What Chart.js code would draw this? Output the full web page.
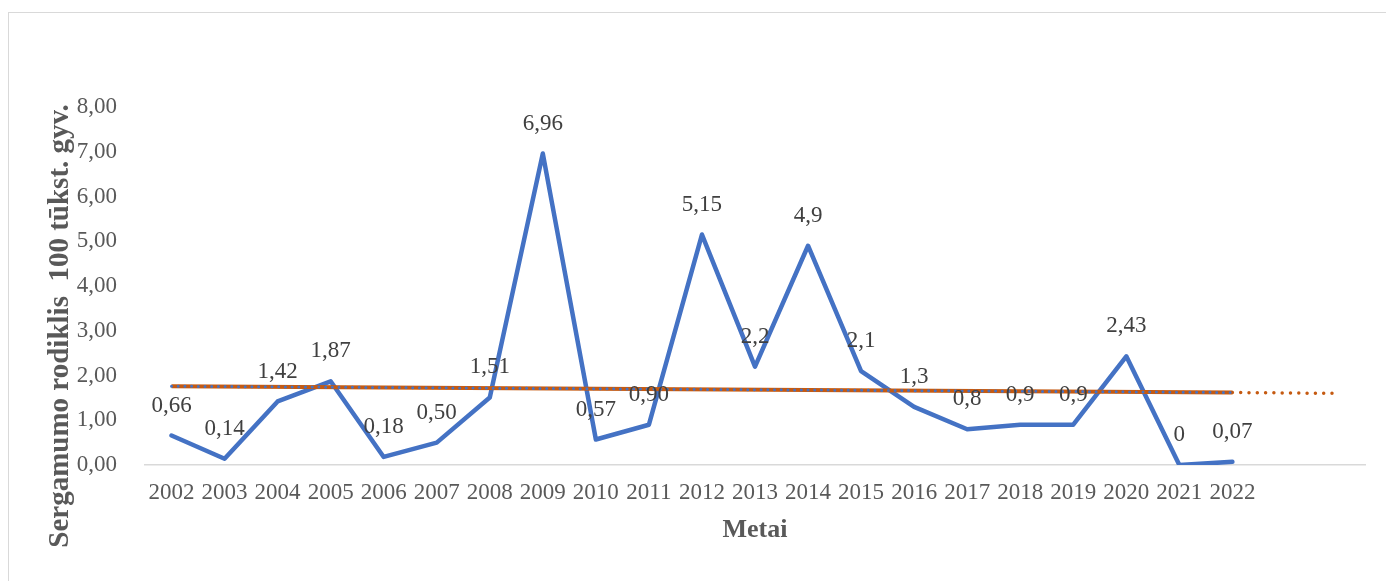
<!DOCTYPE html>
<html lang="lt">
<head>
<meta charset="utf-8">
<title>Sergamumo rodiklis</title>
<script src="https://cdn.jsdelivr.net/npm/chart.js@4.4.1/dist/chart.umd.min.js"></script>
<style>
    html, body { margin: 0; padding: 0; background: #fff; }
    #frame { position: absolute; left: 8px; top: 12px; width: 1400px; height: 600px; border: 1.5px solid #d9d9d9; }
    #wrap { position: absolute; left: 0; top: 0; width: 1386px; height: 581px; }
</style>
</head>
<body>
<div id="frame"></div>
<div id="wrap"><canvas id="rateChart"></canvas></div>
<script>
const years = ['2002', '2003', '2004', '2005', '2006', '2007', '2008', '2009', '2010', '2011',
    '2012', '2013', '2014', '2015', '2016', '2017', '2018', '2019', '2020', '2021', '2022'];
const forecastPeriods = ['', ''];
const rates = [0.66, 0.14, 1.42, 1.87, 0.18, 0.50, 1.51, 6.96, 0.57, 0.90,
    5.15, 2.2, 4.9, 2.1, 1.3, 0.8, 0.9, 0.9, 2.43, 0, 0.07];
const rateDecimals = [2, 2, 2, 2, 2, 2, 2, 2, 2, 2, 2, 1, 1, 1, 1, 1, 1, 1, 2, 0, 2];
const trendValues = [1.76, 1.62];     // linear trend at 2002 and 2022
const forecastValues = [1.62, 1.60];  // trend carried two periods forward

const SERIF = "'Liberation Serif', 'Times New Roman', serif";
const GREY = '#595959';

const labels = years.concat(forecastPeriods);
const lastYear = years.length - 1;

const trendSeries = labels.map(() => null);
trendSeries[0] = trendValues[0];
trendSeries[lastYear] = trendValues[1];

const forecastSeries = labels.map(() => null);
forecastSeries[lastYear] = forecastValues[0];
forecastSeries[labels.length - 1] = forecastValues[1];

function lt(value, decimals) {
    return value.toFixed(decimals).replace('.', ',');
}

// value labels above each point of the main series
const rateLabels = {
    id: 'rateLabels',
    afterDatasetsDraw(chart) {
        const ctx = chart.ctx;
        const meta = chart.getDatasetMeta(0);
        ctx.save();
        ctx.font = `23px ${SERIF}`;
        ctx.fillStyle = '#404040';
        ctx.textAlign = 'center';
        ctx.textBaseline = 'middle';
        meta.data.forEach((pt, i) => {
            ctx.fillText(lt(rates[i], rateDecimals[i]), pt.x, pt.y - 30);
        });
        ctx.restore();
    }
};

// rotated y axis title
const yTitle = {
    id: 'yTitle',
    afterDraw(chart) {
        const ctx = chart.ctx;
        ctx.save();
        ctx.translate(61, 326);
        ctx.rotate(-Math.PI / 2);
        ctx.font = `bold 29px ${SERIF}`;
        ctx.fillStyle = GREY;
        ctx.textAlign = 'center';
        ctx.textBaseline = 'middle';
        ctx.fillText('Sergamumo rodiklis  100 tūkst. gyv.', 0, 0);
        ctx.restore();
    }
};

new Chart(document.getElementById('rateChart'), {
    type: 'line',
    data: {
        labels: labels,
        datasets: [
            {
                data: rates,
                borderColor: '#4472C4',
                borderWidth: 4.5,
                borderCapStyle: 'round',
                borderJoinStyle: 'round',
                pointRadius: 0,
                tension: 0,
                order: 3
            },
            {
                data: trendSeries,
                borderColor: '#C55A11',
                borderWidth: 4,
                pointRadius: 0,
                spanGaps: true,
                order: 2
            },
            {
                data: forecastSeries,
                borderColor: '#C55A11',
                borderWidth: 3.5,
                borderDash: [0, 8.3],
                borderCapStyle: 'round',
                pointRadius: 0,
                spanGaps: true,
                order: 1
            },
            {
                data: trendSeries,
                borderColor: '#4472C4',
                borderWidth: 3,
                borderDash: [0, 6.7],
                borderCapStyle: 'round',
                pointRadius: 0,
                spanGaps: true,
                order: 0
            }
        ]
    },
    options: {
        responsive: true,
        maintainAspectRatio: false,
        animation: false,
        events: [],
        layout: { padding: { top: 107, right: 21, bottom: 0, left: 0 } },
        plugins: { legend: { display: false }, tooltip: { enabled: false } },
        scales: {
            x: {
                offset: true,
                afterFit: (scale) => { scale.height = 116; },
                grid: { display: true, drawOnChartArea: false, drawTicks: false },
                border: { display: true, color: '#d9d9d9', width: 1.5 },
                ticks: { color: GREY, font: { family: SERIF, size: 23 }, padding: 14, maxRotation: 0, autoSkip: false },
                title: {
                    display: true,
                    text: 'Metai',
                    color: GREY,
                    font: { family: SERIF, size: 26, weight: 'bold' },
                    padding: { top: 0, bottom: 35 }
                }
            },
            y: {
                min: 0,
                max: 8,
                afterFit: (scale) => { scale.width = 145; },
                grid: { display: false },
                border: { display: false },
                ticks: {
                    stepSize: 1,
                    padding: 20,
                    color: GREY,
                    font: { family: SERIF, size: 23 },
                    callback: (v) => lt(v, 2)
                }
            }
        }
    },
    plugins: [rateLabels, yTitle]
});
</script>
</body>
</html>
